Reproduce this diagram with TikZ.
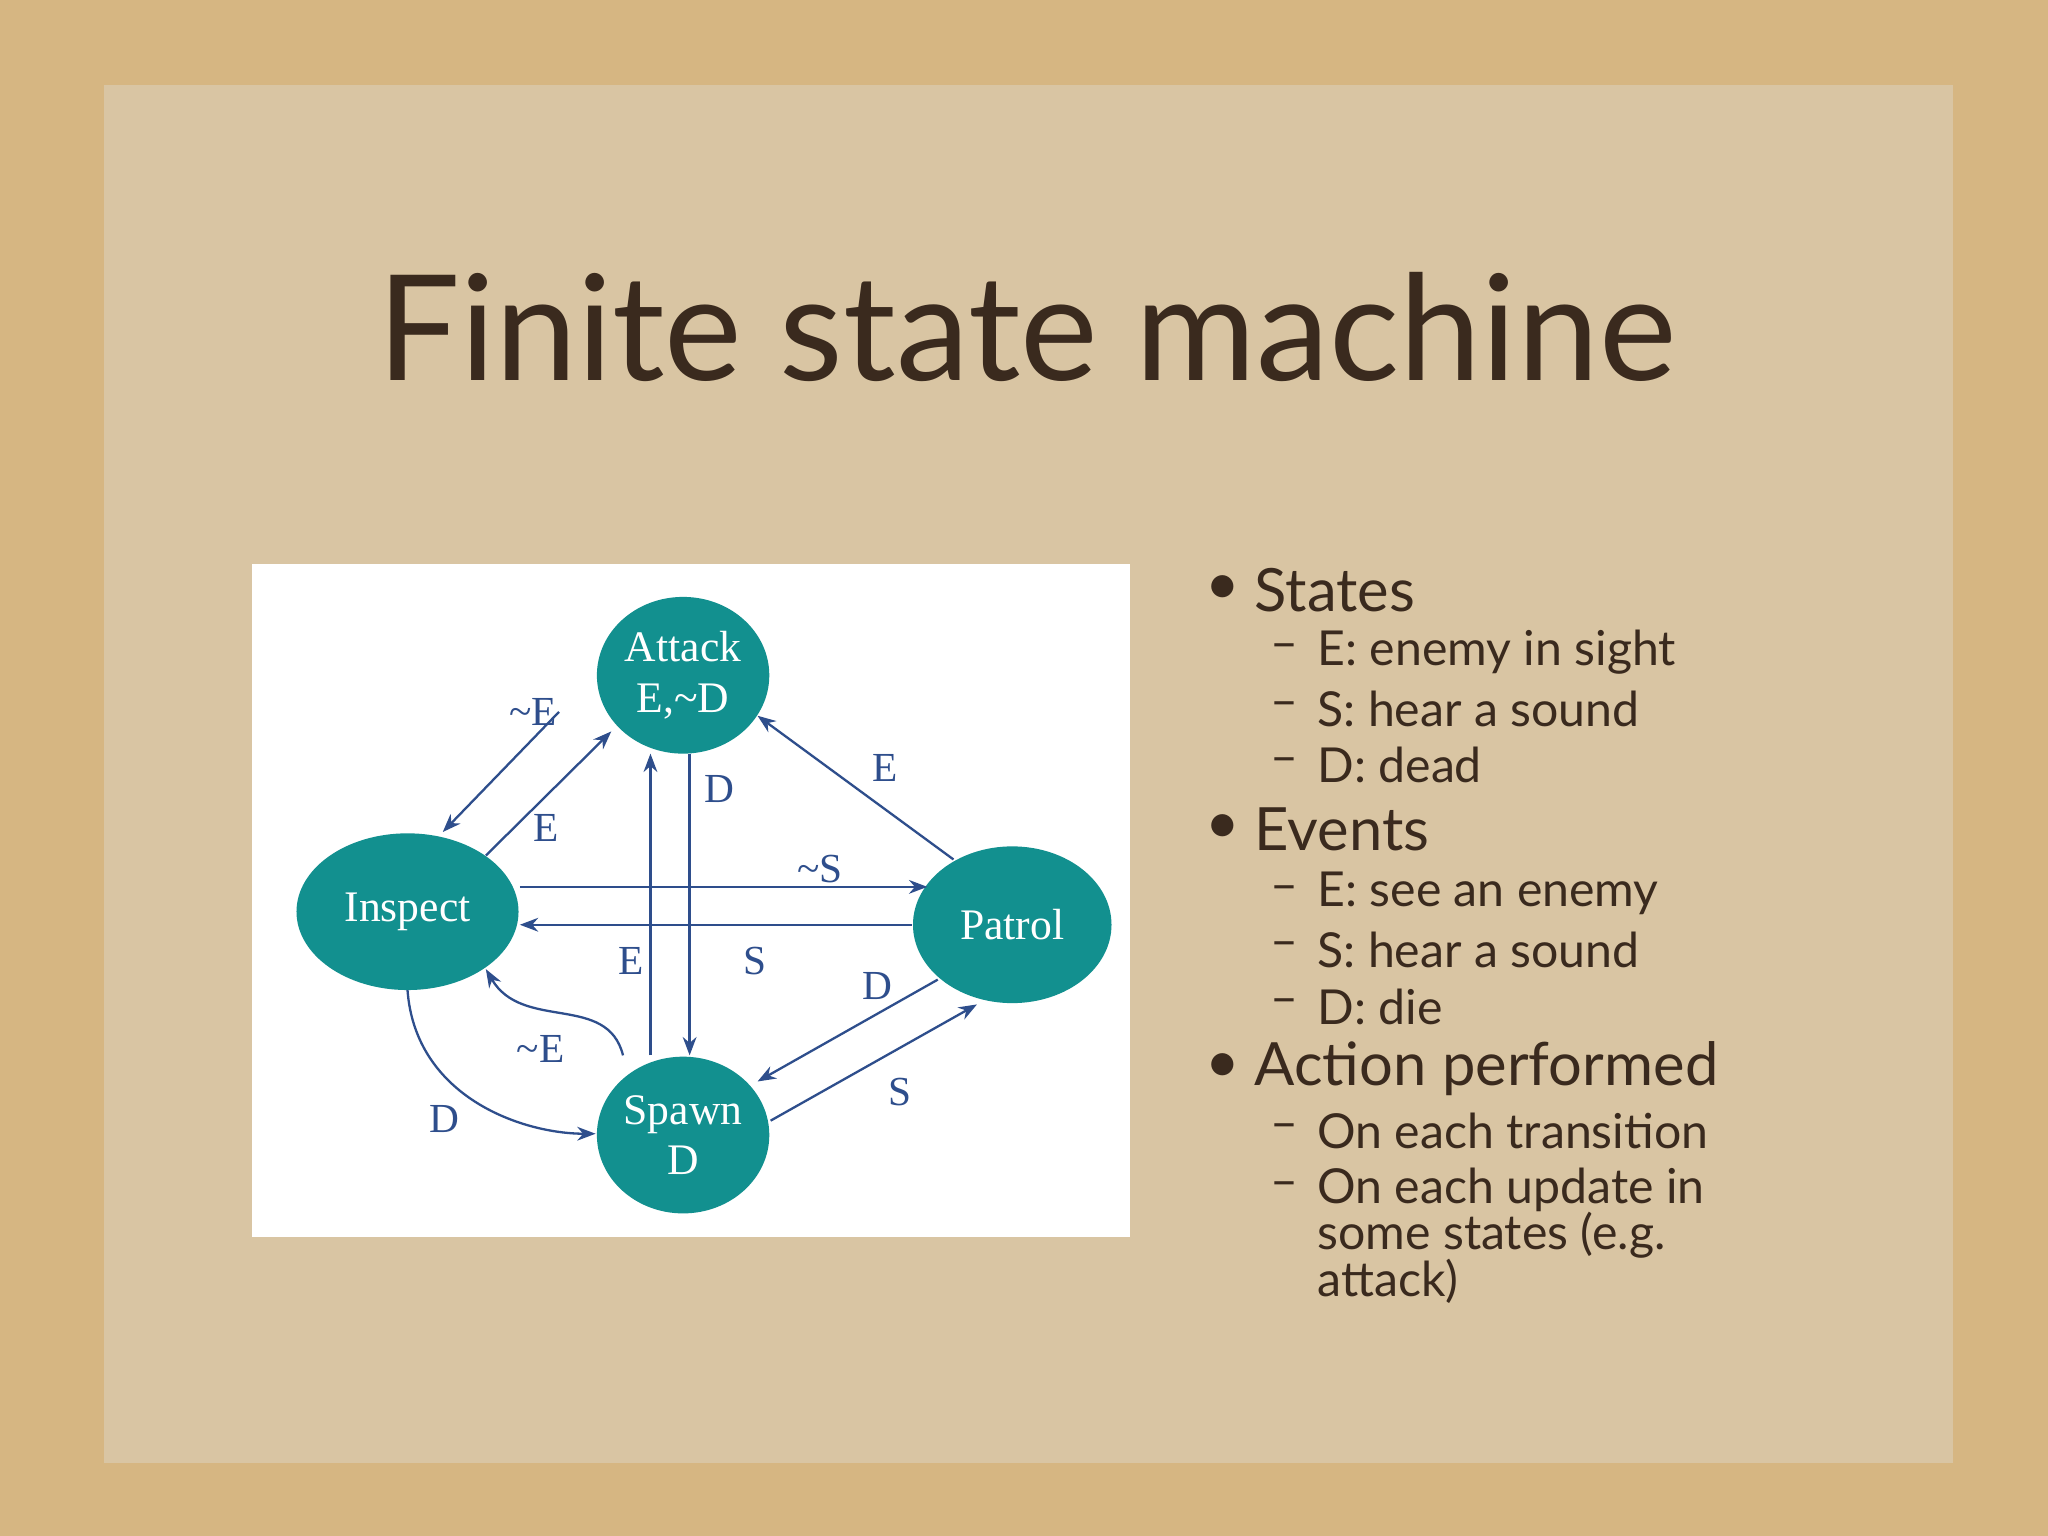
\documentclass[tikz,border=0pt]{standalone}
\usepackage{fontspec}
\setmainfont{Liberation Serif}
\newfontfamily\hand{Lato}
\usetikzlibrary{arrows.meta,shapes.geometric}
\definecolor{bg}{HTML}{D6B682}
\definecolor{paper}{HTML}{D9C5A3}
\definecolor{teal}{HTML}{12908F}
\definecolor{edge}{HTML}{2E4E8C}
\definecolor{ink}{HTML}{3A2A1E}
\begin{document}
\begin{tikzpicture}[x=0.1mm,y=-0.1mm,
  st/.style={ellipse,fill=teal,text=white,font=\fontsize{9.5}{11}\selectfont,align=center,inner sep=0pt},
  tr/.style={draw=edge,line width=0.5pt,-{Stealth[length=4pt,width=3pt]}},
  lb/.style={text=edge,font=\fontsize{9}{10}\selectfont,inner sep=0pt},
  bu/.style={anchor=west,text=ink,font=\hand\fontsize{13}{14}\selectfont,inner sep=0pt},
  sb/.style={anchor=west,text=ink,font=\hand\fontsize{10.5}{11}\selectfont,inner sep=0pt}]
\useasboundingbox (0,0) rectangle (1568,1176);
\fill[bg] (0,0) rectangle (1568,1176);
\fill[paper] (80,65) rectangle (1495,1120);
\node[text=ink,font=\hand\fontsize{32}{36}\selectfont] (title) at (786,250) {Finite state machine};
\fill[white] (193,432) rectangle (865,947);
\node[st,minimum width=13.2mm,minimum height=12mm] (A) at (523,517) {Attack\\E,\textasciitilde D};
\node[st,minimum width=17mm,minimum height=12mm] (I) at (312,698) {Inspect};
\node[st,minimum width=15.2mm,minimum height=12mm] (P) at (775,708) {Patrol};
\node[st,minimum width=13.2mm,minimum height=12mm] (S) at (523,869) {Spawn\\D};
\coordinate (a1) at (428,545); \coordinate (i1) at (339,637);
\coordinate (i2) at (372,655); \coordinate (a2) at (468,560);
\coordinate (p1) at (730,658); \coordinate (a3) at (580,548);
\coordinate (i3) at (398,679); \coordinate (p2) at (710,679);
\coordinate (p3) at (698,708); \coordinate (i4) at (398,708);
\coordinate (s1) at (498,808); \coordinate (a4) at (498,577);
\coordinate (a5) at (528,577); \coordinate (s2) at (528,808);
\coordinate (p4) at (718,750); \coordinate (s3) at (580,828);
\coordinate (s4) at (590,858); \coordinate (p5) at (748,769);
\coordinate (s5) at (477,808); \coordinate (i5) at (372,742);
\coordinate (i6) at (312,758); \coordinate (s6) at (456,868);
\draw[tr] (a1) -- (i1);
\draw[tr] (i2) -- (a2);
\draw[tr] (p1) -- (a3);
\draw[tr] (i3) -- (p2);
\draw[tr] (p3) -- (i4);
\draw[tr] (s1) -- (a4);
\draw[tr] (a5) -- (s2);
\draw[tr] (p4) -- (s3);
\draw[tr] (s4) -- (p5);
\draw[tr] (s5) .. controls (465,760) and (400,790) .. (i5);
\draw[tr] (i6) .. controls (318,840) and (400,868) .. (s6);
\node[lb] (l1) at (408,545) {\textasciitilde E};
\node[lb] (l2) at (418,634) {E};
\node[lb] (l3) at (678,588) {E};
\node[lb] (l4) at (628,665) {\textasciitilde S};
\node[lb] (l5) at (578,736) {S};
\node[lb] (l6) at (483,736) {E};
\node[lb] (l7) at (551,604) {D};
\node[lb] (l8) at (672,755) {D};
\node[lb] (l9) at (689,836) {S};
\node[lb] (l10) at (414,803) {\textasciitilde E};
\node[lb] (l11) at (340,857) {D};
\foreach \y/\t in {452/States,635/Events,818/Action performed}{
  \node[bu] at (922,\y) {•}; \node[bu] at (960,\y) {\t};}
\foreach \y/\t in {499/E: enemy in sight,543/S: hear a sound,586/D: dead,684/E: see an enemy,727/S: hear a sound,771/D: die,866/On each transition,911/On each update in}{
  \node[sb] at (972,\y) {–}; \node[sb] at (1008,\y) {\t};}
\node[sb] (x1) at (1008,946) {some states (e.g.};
\node[sb] (x2) at (1008,981) {attack)};
\end{tikzpicture}
\end{document}
